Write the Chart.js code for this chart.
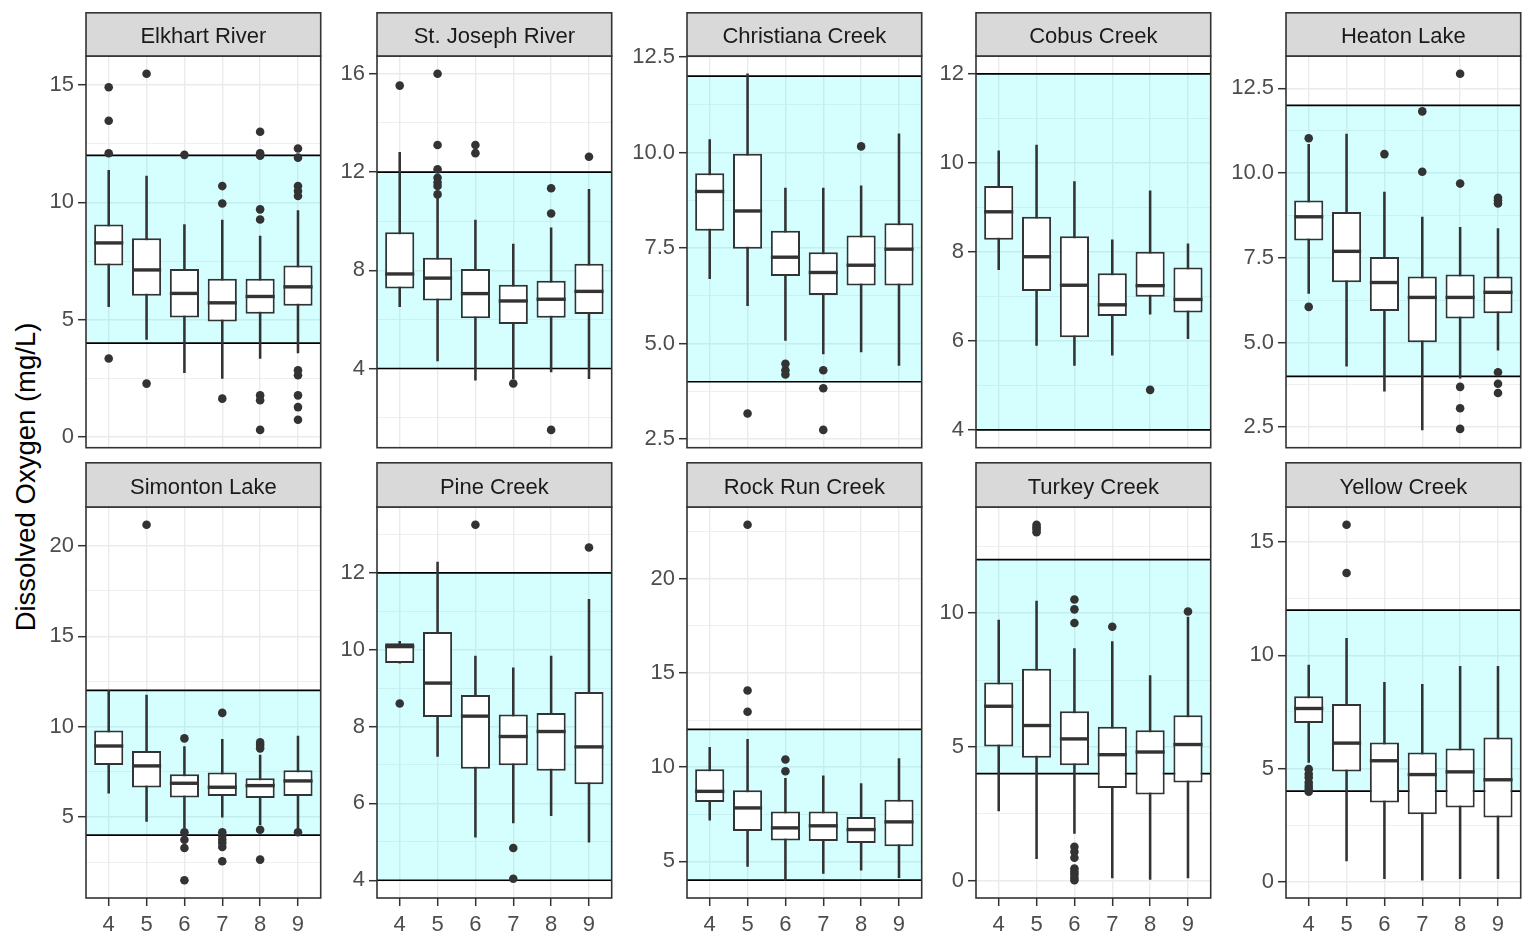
<!DOCTYPE html>
<html>
<head>
<meta charset="utf-8">
<script src="https://cdn.jsdelivr.net/npm/chart.js@4.4.1/dist/chart.umd.min.js"></script>
<style>
  html, body { margin: 0; padding: 0; background: #fff; width: 1525px; height: 936px; overflow: hidden; position: relative; }
  canvas { position: absolute; }
  #ytitle {
    position: absolute; left: 26px; top: 477px;
    transform: translate(-50%, -50%) rotate(-90deg);
    font: 27.5px 'Liberation Sans', Arial, sans-serif; color: #000; white-space: nowrap;
  }
</style>
</head>
<body>
<div id="ytitle">Dissolved Oxygen (mg/L)</div>
<script>
// Monthly dissolved oxygen (mg/L) box statistics per sampling site
const sites = ['Elkhart River', 'St. Joseph River', 'Christiana Creek', 'Cobus Creek', 'Heaton Lake',
               'Simonton Lake', 'Pine Creek', 'Rock Run Creek', 'Turkey Creek', 'Yellow Creek'];
const months = [4, 5, 6, 7, 8, 9];

const whiskerLow = [
  [5.56, 4.16, 2.75, 2.50, 3.35, 3.59],
  [6.52, 4.31, 3.52, 3.59, 3.86, 3.59],
  [6.70, 5.99, 5.08, 4.73, 4.78, 4.43],
  [7.60, 5.90, 5.45, 5.68, 6.60, 6.05],
  [6.45, 4.30, 3.56, 2.42, 3.95, 4.77],
  [6.32, 4.76, 4.39, 5.00, 4.58, 4.39],
  [9.65, 7.22, 5.12, 5.49, 5.68, 4.99],
  [7.18, 4.73, 3.99, 4.35, 4.52, 4.12],
  [2.61, 0.83, 1.77, 0.11, 0.05, 0.11],
  [5.27, 0.91, 0.13, 0.06, 0.13, 0.13]
];
const quartile1 = [
  [7.31, 6.02, 5.09, 4.92, 5.25, 5.59],
  [7.26, 6.77, 6.05, 5.81, 6.07, 6.22],
  [7.95, 7.48, 6.77, 6.27, 6.52, 6.52],
  [8.27, 7.12, 6.08, 6.56, 6.99, 6.64],
  [8.01, 6.78, 5.93, 5.01, 5.71, 5.86],
  [7.88, 6.63, 6.08, 6.17, 6.05, 6.17],
  [9.65, 8.25, 6.90, 6.99, 6.85, 6.50],
  [8.15, 6.61, 6.10, 6.08, 5.97, 5.80],
  [5.02, 4.60, 4.32, 3.47, 3.22, 3.67],
  [7.01, 4.87, 3.50, 2.98, 3.27, 2.83]
];
const medians = [
  [8.27, 7.12, 6.12, 5.72, 5.99, 6.40],
  [7.85, 7.68, 7.05, 6.75, 6.82, 7.14],
  [8.98, 8.47, 7.26, 6.86, 7.05, 7.47],
  [8.90, 7.89, 7.25, 6.81, 7.24, 6.93],
  [8.71, 7.69, 6.77, 6.33, 6.33, 6.48],
  [8.93, 7.83, 6.87, 6.65, 6.74, 7.00],
  [10.08, 9.13, 8.27, 7.74, 7.87, 7.47],
  [8.71, 7.83, 6.77, 6.88, 6.68, 7.09],
  [6.52, 5.80, 5.30, 4.71, 4.81, 5.09],
  [7.65, 6.12, 5.34, 4.73, 4.85, 4.50]
];
const quartile3 = [
  [9.05, 8.47, 7.16, 6.74, 6.74, 7.31],
  [9.55, 8.51, 8.05, 7.41, 7.57, 8.27],
  [9.46, 9.97, 7.95, 7.39, 7.83, 8.15],
  [9.48, 8.79, 8.35, 7.52, 8.00, 7.65],
  [9.19, 8.85, 7.52, 6.95, 7.01, 6.95],
  [9.79, 8.65, 7.37, 7.46, 7.15, 7.59],
  [10.17, 10.46, 8.82, 8.31, 8.35, 8.90],
  [9.88, 8.77, 7.64, 7.64, 7.35, 8.27],
  [7.41, 7.92, 6.33, 5.75, 5.62, 6.18],
  [8.19, 7.85, 6.15, 5.71, 5.88, 6.37]
];
const whiskerHigh = [
  [11.36, 11.12, 9.05, 9.24, 8.56, 9.65],
  [12.80, 10.95, 10.04, 9.07, 9.73, 11.30],
  [10.34, 12.06, 9.07, 9.07, 9.13, 10.49],
  [10.27, 10.40, 9.58, 8.27, 9.37, 8.18],
  [10.85, 11.15, 9.44, 8.70, 8.40, 8.36],
  [12.01, 11.74, 8.90, 9.30, 8.43, 9.48],
  [10.22, 12.28, 9.83, 9.53, 9.83, 11.31],
  [11.05, 11.47, 9.40, 9.53, 9.12, 10.45],
  [9.74, 10.45, 8.67, 8.94, 7.67, 9.85],
  [9.57, 10.75, 8.81, 8.72, 9.51, 9.51]
];
const outliers = [
  [[14.90, 13.47, 12.09, 3.35], [15.47, 2.28], [12.02], [10.69, 9.95, 1.64],
   [13.00, 12.09, 11.98, 9.70, 9.27, 1.78, 1.57, 0.31],
   [12.29, 11.90, 10.69, 10.48, 10.27, 2.85, 2.64, 1.78, 1.28, 0.74]],
  [[15.52], [16.00, 13.10, 12.11, 11.77, 11.57, 11.43, 11.09], [13.10, 12.77], [3.39], [11.34, 10.31, 1.50], [12.62]],
  [[], [3.17], [4.47, 4.30, 4.19], [4.30, 3.83, 2.74], [10.16], []],
  [[], [], [], [], [4.90], []],
  [[11.03, 6.05], [], [10.56], [11.82, 10.04], [12.93, 9.69, 3.69, 3.06, 2.45], [9.27, 9.20, 9.10, 4.12, 3.78, 3.51]],
  [[], [21.16], [9.35, 4.16, 3.75, 3.29, 1.51], [10.76, 4.16, 3.97, 3.75, 3.57, 3.35, 2.56], [9.13, 8.98, 8.80, 4.30, 2.65], [4.16]],
  [[8.60], [], [13.25], [4.84, 4.04], [], [12.66]],
  [[], [22.87, 14.07, 12.94], [10.40, 9.78], [], [], []],
  [[], [13.30, 13.21, 13.12, 13.02], [10.51, 10.14, 9.63, 1.27, 1.08, 0.86, 0.46, 0.34, 0.24, 0.11, 0.02], [9.49], [], [10.06]],
  [[4.97, 4.75, 4.60, 4.38, 4.23, 4.09, 3.97], [15.77, 13.64], [], [], [], []]
];
const yTickLabels = [
  [0, 5, 10, 15], [4, 8, 12, 16], [2.5, 5, 7.5, 10, 12.5], [4, 6, 8, 10, 12], [2.5, 5, 7.5, 10, 12.5],
  [5, 10, 15, 20], [4, 6, 8, 10, 12], [5, 10, 15, 20], [0, 5, 10], [0, 5, 10, 15]
];
// Target range for dissolved oxygen
const guideLow = 4;
const guideHigh = 12;

// ---- layout ----
const FONT = "'Liberation Sans', Arial, sans-serif";
const COL_LEFT = [86, 377, 687, 976, 1286];
const PANEL_W = 237;
const AXIS_W = 60;
const ROWS = [
  { stripTop: 12, stripH: 44, canvasH: 440, xLabels: false },
  { stripTop: 462, stripH: 45, canvasH: 474, xLabels: true }
];
const X_AXIS_H = 36;

Chart.defaults.font.family = FONT;

function facetPlugin(title, stripH) {
  return {
    id: 'facetDecor',
    beforeDatasetsDraw(chart) {
      const { ctx, chartArea: a, scales: { y } } = chart;
      const yHi = y.getPixelForValue(guideHigh);
      const yLo = y.getPixelForValue(guideLow);
      ctx.save();
      ctx.beginPath();
      ctx.rect(a.left, a.top, a.width, a.height);
      ctx.clip();
      ctx.fillStyle = 'rgba(0, 255, 255, 0.165)';
      ctx.fillRect(a.left, yHi, a.width, yLo - yHi);
      ctx.strokeStyle = '#000';
      ctx.lineWidth = 1.7;
      [yHi, yLo].forEach(py => {
        ctx.beginPath();
        ctx.moveTo(a.left, py);
        ctx.lineTo(a.right, py);
        ctx.stroke();
      });
      ctx.restore();
    },
    afterDatasetsDraw(chart) {
      const { ctx, chartArea: a, scales: { y } } = chart;
      const site = chart.options.plugins.facetDecor.site;
      const boxes = chart.getDatasetMeta(1).data;
      ctx.save();
      // medians
      ctx.strokeStyle = '#333333';
      ctx.lineWidth = 3.4;
      boxes.forEach((el, i) => {
        const { x, width } = el.getProps(['x', 'width'], true);
        const py = y.getPixelForValue(medians[site][i]);
        ctx.beginPath();
        ctx.moveTo(x - width / 2, py);
        ctx.lineTo(x + width / 2, py);
        ctx.stroke();
      });
      // panel frame
      ctx.lineWidth = 1.6;
      ctx.strokeRect(a.left, a.top, a.width, a.height);
      // facet strip
      ctx.fillStyle = '#D9D9D9';
      ctx.fillRect(a.left, a.top - stripH + 0.8, a.width, stripH - 0.8);
      ctx.strokeRect(a.left, a.top - stripH + 0.8, a.width, stripH - 0.8);
      ctx.fillStyle = '#1A1A1A';
      ctx.font = '22px ' + FONT;
      ctx.textAlign = 'center';
      ctx.textBaseline = 'middle';
      ctx.fillText(title, (a.left + a.right) / 2, a.top - stripH / 2 + 3);
      ctx.restore();
    }
  };
}

function yLimits(s) {
  let lo = Math.min(guideLow, ...whiskerLow[s]);
  let hi = Math.max(guideHigh, ...whiskerHigh[s]);
  outliers[s].forEach(list => list.forEach(v => { lo = Math.min(lo, v); hi = Math.max(hi, v); }));
  const pad = (hi - lo) * 0.05;
  return [lo - pad, hi + pad];
}

// keep the plotting area fixed regardless of edge tick labels
function noEdgePadding(scale) {
  scale.paddingTop = 0;
  scale.paddingBottom = 0;
  scale.paddingLeft = 0;
  scale.paddingRight = 0;
}

sites.forEach((name, s) => {
  const row = ROWS[Math.floor(s / 5)];
  const left = COL_LEFT[s % 5];
  const xH = row.xLabels ? X_AXIS_H : 0;
  const canvas = document.createElement('canvas');
  const cw = AXIS_W + PANEL_W + 2;
  const ch = row.canvasH;
  canvas.width = cw; canvas.height = ch;
  canvas.style.left = (left - AXIS_W) + 'px';
  canvas.style.top = row.stripTop + 'px';
  canvas.style.width = cw + 'px'; canvas.style.height = ch + 'px';
  document.body.appendChild(canvas);

  const ticks = yTickLabels[s];
  const step = ticks[1] - ticks[0];
  const decimals = ticks.some(t => !Number.isInteger(t)) ? 1 : 0;
  const isMajor = v => ticks.some(t => Math.abs(t - v) < 1e-6);
  const [yMin, yMax] = yLimits(s);

  const outlierPoints = [];
  months.forEach((m, j) => outliers[s][j].forEach(v => outlierPoints.push({ x: m, y: v })));

  new Chart(canvas, {
    type: 'bar',
    data: {
      datasets: [
        {
          label: 'whiskers',
          data: months.map((m, j) => ({ x: m, y: [whiskerLow[s][j], whiskerHigh[s][j]] })),
          backgroundColor: '#333333',
          borderWidth: 0,
          barThickness: 1.9,
          grouped: false,
          order: 3
        },
        {
          label: 'boxes',
          data: months.map((m, j) => ({ x: m, y: [quartile1[s][j], quartile3[s][j]] })),
          backgroundColor: '#FFFFFF',
          borderColor: '#333333',
          borderWidth: 2,
          borderSkipped: false,
          barPercentage: 0.77,
          categoryPercentage: 1,
          grouped: false,
          order: 2
        },
        {
          type: 'scatter',
          label: 'outliers',
          data: outlierPoints,
          backgroundColor: '#333333',
          borderWidth: 0,
          pointRadius: 4.3,
          order: 1
        }
      ]
    },
    options: {
      responsive: false,
      animation: false,
      devicePixelRatio: 1,
      layout: { padding: { top: row.stripH, right: 2, bottom: 2, left: 0 } },
      plugins: {
        legend: { display: false },
        tooltip: { enabled: false },
        facetDecor: { site: s }
      },
      scales: {
        x: {
          type: 'linear',
          min: 3.4, max: 9.6,
          offset: false,
          border: { display: false },
          grid: {
            offset: false,
            color: '#EBEBEB',
            lineWidth: 1.4,
            drawTicks: row.xLabels,
            tickLength: 8,
            tickColor: '#333333',
            tickWidth: 1.5
          },
          ticks: {
            display: row.xLabels,
            stepSize: 1,
            includeBounds: false,
            autoSkip: false,
            maxRotation: 0,
            color: '#4D4D4D',
            font: { size: 22 },
            padding: 6,
            callback: v => String(v)
          },
          afterFit(scale) { scale.height = xH; noEdgePadding(scale); }
        },
        y: {
          type: 'linear',
          min: yMin, max: yMax,
          border: { display: false },
          grid: {
            color: '#EBEBEB',
            lineWidth: c => (c.tick && isMajor(c.tick.value)) ? 1.4 : 0.8,
            tickLength: 8,
            tickColor: c => (c.tick && isMajor(c.tick.value)) ? '#333333' : 'rgba(0,0,0,0)',
            tickWidth: 1.5
          },
          ticks: {
            stepSize: step / 2,
            includeBounds: false,
            autoSkip: false,
            color: '#4D4D4D',
            font: { size: 22 },
            padding: 4,
            callback: v => isMajor(v) ? Number(v).toFixed(decimals) : ''
          },
          afterFit(scale) { scale.width = AXIS_W; noEdgePadding(scale); }
        }
      }
    },
    plugins: [facetPlugin(name, row.stripH)]
  });
});
</script>
</body>
</html>
